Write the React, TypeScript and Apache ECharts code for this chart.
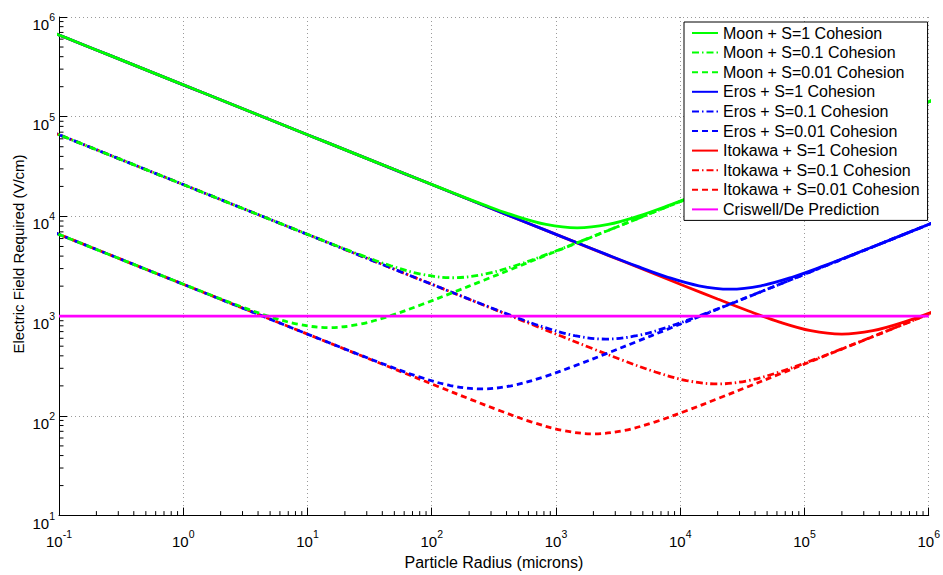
import React, { useEffect, useRef } from 'react';
import * as echarts from 'echarts';

// ---- data (particle radius in microns, field in V/cm) ----
const moonX = [0.083176, 0.14791, 0.26303, 0.46774, 0.83176, 1.4791, 2.6303, 4.6774, 8.3176, 14.791, 26.303, 46.774, 83.176, 147.91, 263.03, 467.74, 831.76, 1479.1, 2630.3, 4677.4, 8317.6, 14791, 26303, 46774, 83176, 147910, 263030, 467740, 831760, 1479100];
const moonS1 = [724000, 542900, 407100, 305300, 229000, 171700, 128750, 96550, 72400, 54290, 40720, 30550, 22936, 17256, 13077, 10126, 8306, 7678, 8305, 10126, 13080, 17256, 22932, 30547, 40720, 54293, 72404, 96549, 128750, 171710];
const moonS01 = [72400, 54290, 40710, 30530, 22900, 17170, 12877, 9660, 7251, 5456, 4135, 3202, 2627, 2428, 2627, 3202, 4135, 5456, 7251, 9659, 12880, 17171, 22896, 30531, 40714, 54287, 72404, 96549, 128750, 171710];
const moonS001 = [7240, 5429, 4072, 3055, 2294, 1726, 1308, 1013, 830.6, 767.8, 830.5, 1012.6, 1308, 1725.6, 2293, 3055, 4072, 5429, 7240, 9655, 12875, 17171, 22896, 30531, 40714, 54287, 72404, 96549, 128750, 171710];

const erosX = [0.079433, 0.14125, 0.25119, 0.44668, 0.79433, 1.4125, 2.5119, 4.4668, 7.9433, 14.125, 25.119, 44.668, 79.433, 141.25, 251.19, 446.68, 794.33, 1412.5, 2511.9, 4466.8, 7943.3, 14125, 25119, 44668, 79433, 141250, 251190, 446680, 794330, 1412500];
const erosS1 = [740900, 555600, 416600, 312400, 234300, 175700, 131750, 98800, 74090, 55560, 41660, 31240, 23430, 17570, 13175, 9882, 7413, 5565, 4187, 3173, 2457, 2016, 1863, 2016, 2457, 3173, 4187, 5564, 7413, 9882];
const erosS01 = [74090, 55560, 41660, 31240, 23430, 17570, 13175, 9880, 7409, 5556, 4166, 3125, 2344, 1760, 1324, 1003.5, 777.1, 637.4, 589.2, 637.3, 777.1, 1003.5, 1324, 1760, 2344, 3125, 4166, 5556, 7409, 9880];
const erosS001 = [7409, 5556, 4166, 3124, 2343, 1757, 1317.5, 988.2, 741.3, 556.5, 418.7, 317.3, 245.7, 201.6, 186.3, 201.6, 245.7, 317.3, 418.7, 556.4, 741.3, 988.2, 1317.6, 1757, 2343, 3124, 4166, 5556, 7409, 9880];

const itoX = [0.063096, 0.1122, 0.19953, 0.35481, 0.63096, 1.122, 1.9953, 3.5481, 6.3096, 11.22, 19.953, 35.481, 63.096, 112.2, 199.53, 354.81, 630.96, 1122, 1995.3, 3548.1, 6309.6, 11220, 19953, 35481, 63096, 112200, 199530, 354810, 630960, 1122000];
const itoS1 = [831300, 623400, 467500, 350600, 262900, 197100, 147800, 110850, 83130, 62340, 46750, 35060, 26290, 19710, 14780, 11085, 8313, 6234, 4675, 3507, 2630, 1974, 1485, 1125.9, 871.9, 715.2, 661.1, 715.2, 871.9, 1125.8];
const itoS01 = [83130, 62340, 46750, 35060, 26290, 19710, 14780, 11085, 8313, 6234, 4675, 3506, 2629, 1971, 1478, 1108.7, 831.7, 624.4, 469.8, 356.1, 275.7, 226.1, 209.0, 226.1, 275.7, 356.1, 469.8, 624.4, 831.8, 1108.6];
const itoS001 = [8313, 6234, 4675, 3506, 2629, 1971, 1478, 1108.5, 831.3, 623.4, 467.5, 350.7, 263.0, 197.4, 148.5, 112.6, 87.19, 71.52, 66.11, 71.52, 87.19, 112.6, 148.5, 197.4, 263.0, 350.6, 467.5, 623.4, 831.3, 1108.5];

const criswellX = [0.1, 1000000];
const criswellY = [1000, 1000];

const xTickExponents = [-1, 0, 1, 2, 3, 4, 5, 6];
const yTickExponents = [1, 2, 3, 4, 5, 6];

const seriesNames = [
  'Moon + S=1 Cohesion',
  'Moon + S=0.1 Cohesion',
  'Moon + S=0.01 Cohesion',
  'Eros + S=1 Cohesion',
  'Eros + S=0.1 Cohesion',
  'Eros + S=0.01 Cohesion',
  'Itokawa + S=1 Cohesion',
  'Itokawa + S=0.1 Cohesion',
  'Itokawa + S=0.01 Cohesion',
  'Criswell/De Prediction',
];
const xAxisTitle = 'Particle Radius (microns)';
const yAxisTitle = 'Electric Field Required (V/cm)';

const FONT = '"Liberation Sans", Arial, Helvetica, sans-serif';
const GREEN = '#00ff00';
const BLUE = '#0000ff';
const RED = '#ff0000';
const MAGENTA = '#ff00ff';
const DASHDOT = [7, 3, 1.5, 3];
const DASHED = [6, 4];

const zip = (xs: number[], ys: number[]) => xs.map((x, i) => [x, ys[i]]);

export default function App() {
  const ref = useRef<HTMLDivElement>(null);

  useEffect(() => {
    if (!ref.current) return;
    const chart = echarts.init(ref.current, undefined, { renderer: 'svg' });

    const minorX: number[] = [];
    for (let e = xTickExponents[0]; e < xTickExponents[xTickExponents.length - 1]; e++) {
      for (let m = 2; m <= 9; m++) minorX.push(m * Math.pow(10, e));
    }
    const minorY: number[] = [];
    for (let e = yTickExponents[0]; e < yTickExponents[yTickExponents.length - 1]; e++) {
      for (let m = 2; m <= 9; m++) minorY.push(m * Math.pow(10, e));
    }

    const line = (name: string, data: number[][], color: string, type: any, z: number) => ({
      name,
      type: 'line',
      data,
      symbol: 'none',
      smooth: 0.35,
      clip: true,
      z,
      lineStyle: { color, width: 2.8, type },
      itemStyle: { color },
      emphasis: { disabled: true },
    });

    const labelFmt = (v: number) => {
      const e = Math.round(Math.log10(v));
      return `{b|10}{s|${e}}`;
    };
    const rich = {
      b: { fontSize: 15, fontFamily: FONT, color: '#000', lineHeight: 24, verticalAlign: 'bottom' },
      s: { fontSize: 10.5, fontFamily: FONT, color: '#000', lineHeight: 14, verticalAlign: 'top', padding: [3.5, 0, 0, 0] },
    };

    const option: any = {
      animation: false,
      backgroundColor: '#fff',
      textStyle: { fontFamily: FONT },
      grid: { left: 59, right: 14, top: 17, bottom: 47, containLabel: false },
      legend: {
        data: seriesNames,
        orient: 'vertical',
        left: 684,
        top: 22,
        z: 20,
        backgroundColor: '#fff',
        borderColor: '#000',
        borderWidth: 1,
        borderRadius: 0,
        padding: [3, 8, 3, 7],
        itemWidth: 26,
        itemHeight: 14,
        itemGap: 3.6,
        selectedMode: false,
        itemStyle: { opacity: 0, borderWidth: 0 },
        textStyle: { fontSize: 16, lineHeight: 16, color: '#000', fontFamily: FONT },
      },
      graphic: [
        {
          type: 'text',
          x: 18.5,
          y: 254,
          rotation: Math.PI / 2,
          silent: true,
          style: {
            text: yAxisTitle,
            fontSize: 15,
            fontFamily: FONT,
            fill: '#000',
            align: 'center',
            verticalAlign: 'middle',
          },
        },
      ],
      xAxis: {
        type: 'log',
        logBase: 10,
        min: 0.1,
        max: 1000000,
        interval: 1,
        name: xAxisTitle,
        nameLocation: 'middle',
        nameGap: 26,
        nameTextStyle: { fontSize: 16, color: '#000', fontFamily: FONT },
        axisLine: { show: true, onZero: false, lineStyle: { color: '#000', width: 1 } },
        axisTick: { show: true, inside: true, length: 8, lineStyle: { color: '#000' } },
        axisLabel: { formatter: labelFmt, rich, margin: 9.5, color: '#000' },
        splitLine: { show: true, lineStyle: { color: '#9a9a9a', type: [1, 3], width: 1 } },
      },
      yAxis: {
        type: 'log',
        logBase: 10,
        min: 10,
        max: 1000000,
        interval: 1,
        axisLine: { show: true, onZero: false, lineStyle: { color: '#000', width: 1 } },
        axisTick: { show: true, inside: true, length: 8, lineStyle: { color: '#000' } },
        axisLabel: { formatter: labelFmt, rich, margin: 4, padding: [6, 0, 0, 0], color: '#000' },
        splitLine: { show: true, lineStyle: { color: '#9a9a9a', type: [1, 3], width: 1 } },
      },
      series: [
        line(seriesNames[0], zip(moonX, moonS1), GREEN, 'solid', 5),
        line(seriesNames[1], zip(moonX, moonS01), GREEN, DASHDOT, 5),
        line(seriesNames[2], zip(moonX, moonS001), GREEN, DASHED, 5),
        line(seriesNames[3], zip(erosX, erosS1), BLUE, 'solid', 4),
        line(seriesNames[4], zip(erosX, erosS01), BLUE, DASHDOT, 4),
        line(seriesNames[5], zip(erosX, erosS001), BLUE, DASHED, 4),
        line(seriesNames[6], zip(itoX, itoS1), RED, 'solid', 3),
        line(seriesNames[7], zip(itoX, itoS01), RED, DASHDOT, 3),
        line(seriesNames[8], zip(itoX, itoS001), RED, DASHED, 3),
        line(seriesNames[9], zip(criswellX, criswellY), MAGENTA, 'solid', 6),
        {
          type: 'custom',
          silent: true,
          clip: false,
          z: 7,
          data: minorX.map((v) => [v, Math.pow(10, yTickExponents[0])]),
          renderItem: (_p: any, api: any) => {
            const pt = api.coord([api.value(0), api.value(1)]);
            return {
              type: 'line',
              shape: { x1: pt[0], y1: pt[1], x2: pt[0], y2: pt[1] - 4.5 },
              style: { stroke: '#000', lineWidth: 1 },
            };
          },
        },
        {
          type: 'custom',
          silent: true,
          clip: false,
          z: 7,
          data: minorY.map((v) => [Math.pow(10, xTickExponents[0]), v]),
          renderItem: (_p: any, api: any) => {
            const pt = api.coord([api.value(0), api.value(1)]);
            return {
              type: 'line',
              shape: { x1: pt[0], y1: pt[1], x2: pt[0] + 4.5, y2: pt[1] },
              style: { stroke: '#000', lineWidth: 1 },
            };
          },
        },
      ],
    };

    chart.setOption(option);
    return () => chart.dispose();
  }, []);

  return (
    <div
      ref={ref}
      style={{ position: 'fixed', left: 0, top: 0, width: 943, height: 575, background: '#fff' }}
    />
  );
}
